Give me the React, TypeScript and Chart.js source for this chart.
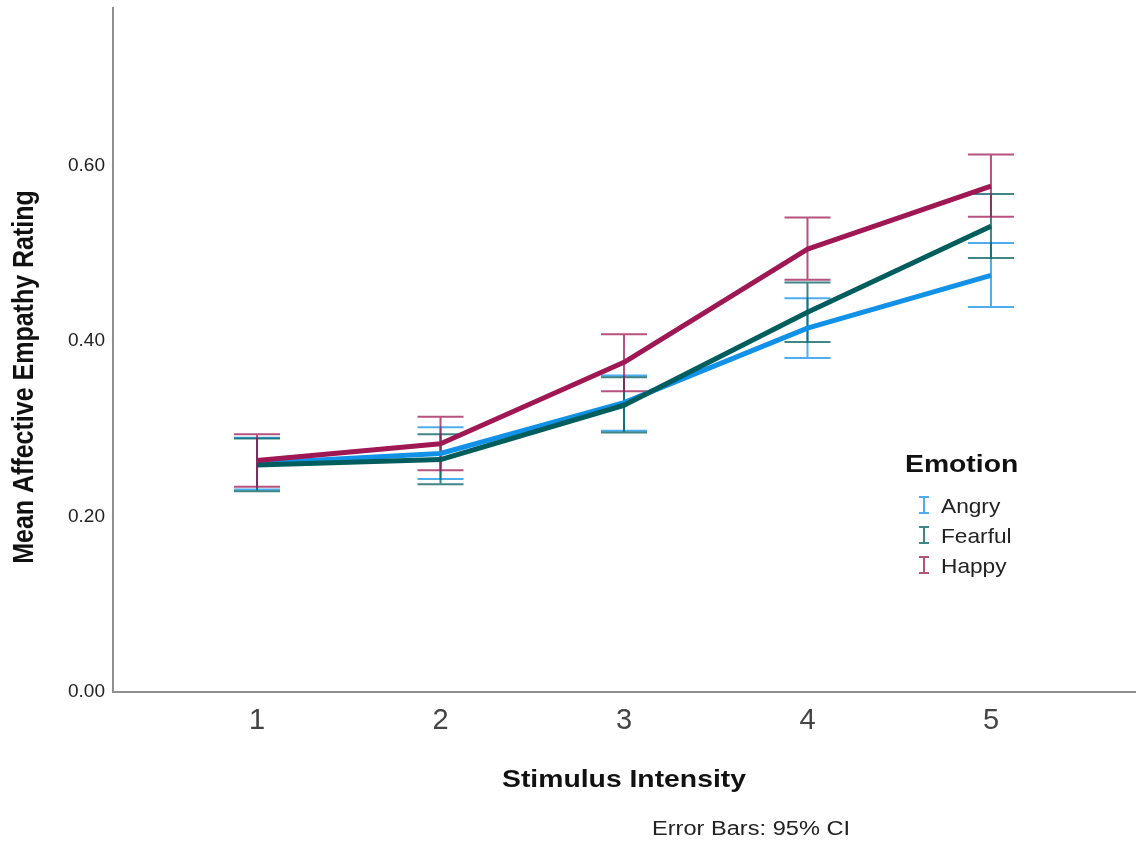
import React, { useEffect, useRef } from 'react';
import { Chart, registerables } from 'chart.js';

Chart.register(...registerables);

// Stimulus intensity levels on the x axis
const intensities = [1, 2, 3, 4, 5];
const yTickValues = [0, 0.2, 0.4, 0.6];

// Mean affective empathy ratings with 95% confidence limits
const angryMean = [0.261, 0.272, 0.330, 0.415, 0.475];
const angryLower = [0.231, 0.243, 0.298, 0.381, 0.439];
const angryUpper = [0.290, 0.302, 0.361, 0.449, 0.512];

const fearfulMean = [0.259, 0.265, 0.327, 0.433, 0.531];
const fearfulLower = [0.229, 0.237, 0.296, 0.399, 0.495];
const fearfulUpper = [0.289, 0.294, 0.359, 0.467, 0.568];

const happyMean = [0.264, 0.283, 0.376, 0.505, 0.577];
const happyLower = [0.234, 0.253, 0.343, 0.470, 0.542];
const happyUpper = [0.294, 0.314, 0.408, 0.541, 0.613];

const emotionNames = ['Angry', 'Fearful', 'Happy'];
const emotionColors = ['#1192e8', '#005d5d', '#9f1853'];

const yAxisTitle = 'Mean Affective Empathy Rating';
const xAxisTitle = 'Stimulus Intensity';
const legendTitle = 'Emotion';
const footnote = 'Error Bars: 95% CI';

const FONT = '"Liberation Sans", Arial, sans-serif';
const STRETCH = 1.18;

const series = [
  { name: emotionNames[0], color: emotionColors[0], mean: angryMean, lower: angryLower, upper: angryUpper, order: 3 },
  { name: emotionNames[1], color: emotionColors[1], mean: fearfulMean, lower: fearfulLower, upper: fearfulUpper, order: 2 },
  { name: emotionNames[2], color: emotionColors[2], mean: happyMean, lower: happyLower, upper: happyUpper, order: 1 },
];

function withAlpha(hex: string, a: number) {
  const n = parseInt(hex.slice(1), 16);
  return `rgba(${(n >> 16) & 255},${(n >> 8) & 255},${n & 255},${a})`;
}

function drawStretched(
  ctx: CanvasRenderingContext2D,
  text: string,
  x: number,
  y: number,
  font: string,
  color: string,
  align: 'left' | 'center',
  sx: number
) {
  ctx.save();
  ctx.font = font;
  ctx.fillStyle = color;
  ctx.textBaseline = 'alphabetic';
  ctx.textAlign = 'left';
  const w = ctx.measureText(text).width * sx;
  const left = align === 'center' ? x - w / 2 : x;
  ctx.translate(left, y);
  ctx.scale(sx, 1);
  ctx.fillText(text, 0, 0);
  ctx.restore();
}

// Confidence-interval whiskers, painted underneath the mean lines
const ciBarsPlugin = {
  id: 'ciBars',
  beforeDatasetsDraw(chart: any) {
    const { ctx, scales } = chart;
    const xs = scales.x;
    const ys = scales.y;
    const capHalf = 23;
    series.forEach((s) => {
      ctx.save();
      ctx.strokeStyle = withAlpha(s.color, 0.75);
      ctx.lineWidth = 2;
      intensities.forEach((v, i) => {
        const px = xs.getPixelForValue(v);
        const top = ys.getPixelForValue(s.upper[i]);
        const bot = ys.getPixelForValue(s.lower[i]);
        ctx.beginPath();
        ctx.moveTo(px, top);
        ctx.lineTo(px, bot);
        ctx.moveTo(px - capHalf, top);
        ctx.lineTo(px + capHalf, top);
        ctx.moveTo(px - capHalf, bot);
        ctx.lineTo(px + capHalf, bot);
        ctx.stroke();
      });
      ctx.restore();
    });
  },
};

// Axis titles, legend and footnote
const annotationsPlugin = {
  id: 'annotations',
  afterDraw(chart: any) {
    const { ctx } = chart;

    // y axis title, rotated
    ctx.save();
    ctx.translate(33, 377);
    ctx.rotate(-Math.PI / 2);
    ctx.scale(1, STRETCH);
    ctx.font = `bold 25px ${FONT}`;
    ctx.fillStyle = '#111';
    ctx.textAlign = 'center';
    ctx.textBaseline = 'alphabetic';
    ctx.fillText(yAxisTitle, 0, 0);
    ctx.restore();

    // x axis title
    drawStretched(ctx, xAxisTitle, 624, 787, `bold 24px ${FONT}`, '#111', 'center', STRETCH);

    // footnote
    drawStretched(ctx, footnote, 652, 835, `20px ${FONT}`, '#222', 'left', STRETCH);

    // legend
    drawStretched(ctx, legendTitle, 905, 472, `bold 24px ${FONT}`, '#111', 'left', STRETCH);
    const baselines = [513, 543, 573];
    series.forEach((s, i) => {
      const by = baselines[i];
      const cx = 924;
      const top = by - 16;
      const bot = by;
      ctx.save();
      ctx.strokeStyle = withAlpha(s.color, 0.75);
      ctx.lineWidth = 2;
      ctx.beginPath();
      ctx.moveTo(cx, top);
      ctx.lineTo(cx, bot);
      ctx.moveTo(cx - 5, top);
      ctx.lineTo(cx + 5, top);
      ctx.moveTo(cx - 5, bot);
      ctx.lineTo(cx + 5, bot);
      ctx.stroke();
      ctx.restore();
      drawStretched(ctx, s.name, 941, by, `21px ${FONT}`, '#222', 'left', 1.08);
    });
  },
};

export default function App() {
  const canvasRef = useRef<HTMLCanvasElement | null>(null);

  useEffect(() => {
    const canvas = canvasRef.current;
    if (!canvas) return;

    const chart = new Chart(canvas, {
      type: 'line',
      data: {
        datasets: series.map((s) => ({
          label: s.name,
          data: intensities.map((x, i) => ({ x, y: s.mean[i] })),
          borderColor: s.color,
          backgroundColor: s.color,
          borderWidth: 5,
          pointRadius: 0,
          pointHoverRadius: 0,
          tension: 0,
          fill: false,
          order: s.order,
          borderJoinStyle: 'round' as const,
        })),
      },
      options: {
        responsive: false,
        animation: false,
        devicePixelRatio: 1,
        layout: { padding: { top: 8, right: 5, left: 0, bottom: 0 } },
        plugins: {
          legend: { display: false },
          tooltip: { enabled: false },
          title: { display: false },
        },
        scales: {
          x: {
            type: 'linear',
            min: 0.215,
            max: 5.785,
            grid: { display: false, drawTicks: false },
            border: { display: true, color: '#8f8f8f', width: 2 },
            ticks: {
              font: { family: FONT, size: 29 },
              color: '#444',
              padding: 12,
              callback: (v: any) => String(v),
            },
            afterBuildTicks: (scale: any) => {
              scale.ticks = intensities.map((v) => ({ value: v }));
            },
            afterFit: (scale: any) => {
              scale.height = 158;
              scale.paddingLeft = 0;
              scale.paddingRight = 0;
            },
          },
          y: {
            type: 'linear',
            min: 0,
            max: 0.78,
            grid: { display: false, drawTicks: false },
            border: { display: true, color: '#8f8f8f', width: 2 },
            ticks: {
              font: { family: FONT, size: 19 },
              color: '#222',
              padding: 8,
              callback: (v: any) => Number(v).toFixed(2),
            },
            afterBuildTicks: (scale: any) => {
              scale.ticks = yTickValues.map((v) => ({ value: v }));
            },
            afterFit: (scale: any) => {
              scale.width = 113;
              scale.paddingTop = 0;
              scale.paddingBottom = 0;
            },
          },
        },
      },
      plugins: [ciBarsPlugin, annotationsPlugin],
    });

    return () => {
      chart.destroy();
    };
  }, []);

  return (
    <div style={{ position: 'absolute', left: 0, top: 0, width: 1140, height: 850, background: '#fff' }}>
      <canvas ref={canvasRef} width={1140} height={850} style={{ display: 'block' }} />
    </div>
  );
}
